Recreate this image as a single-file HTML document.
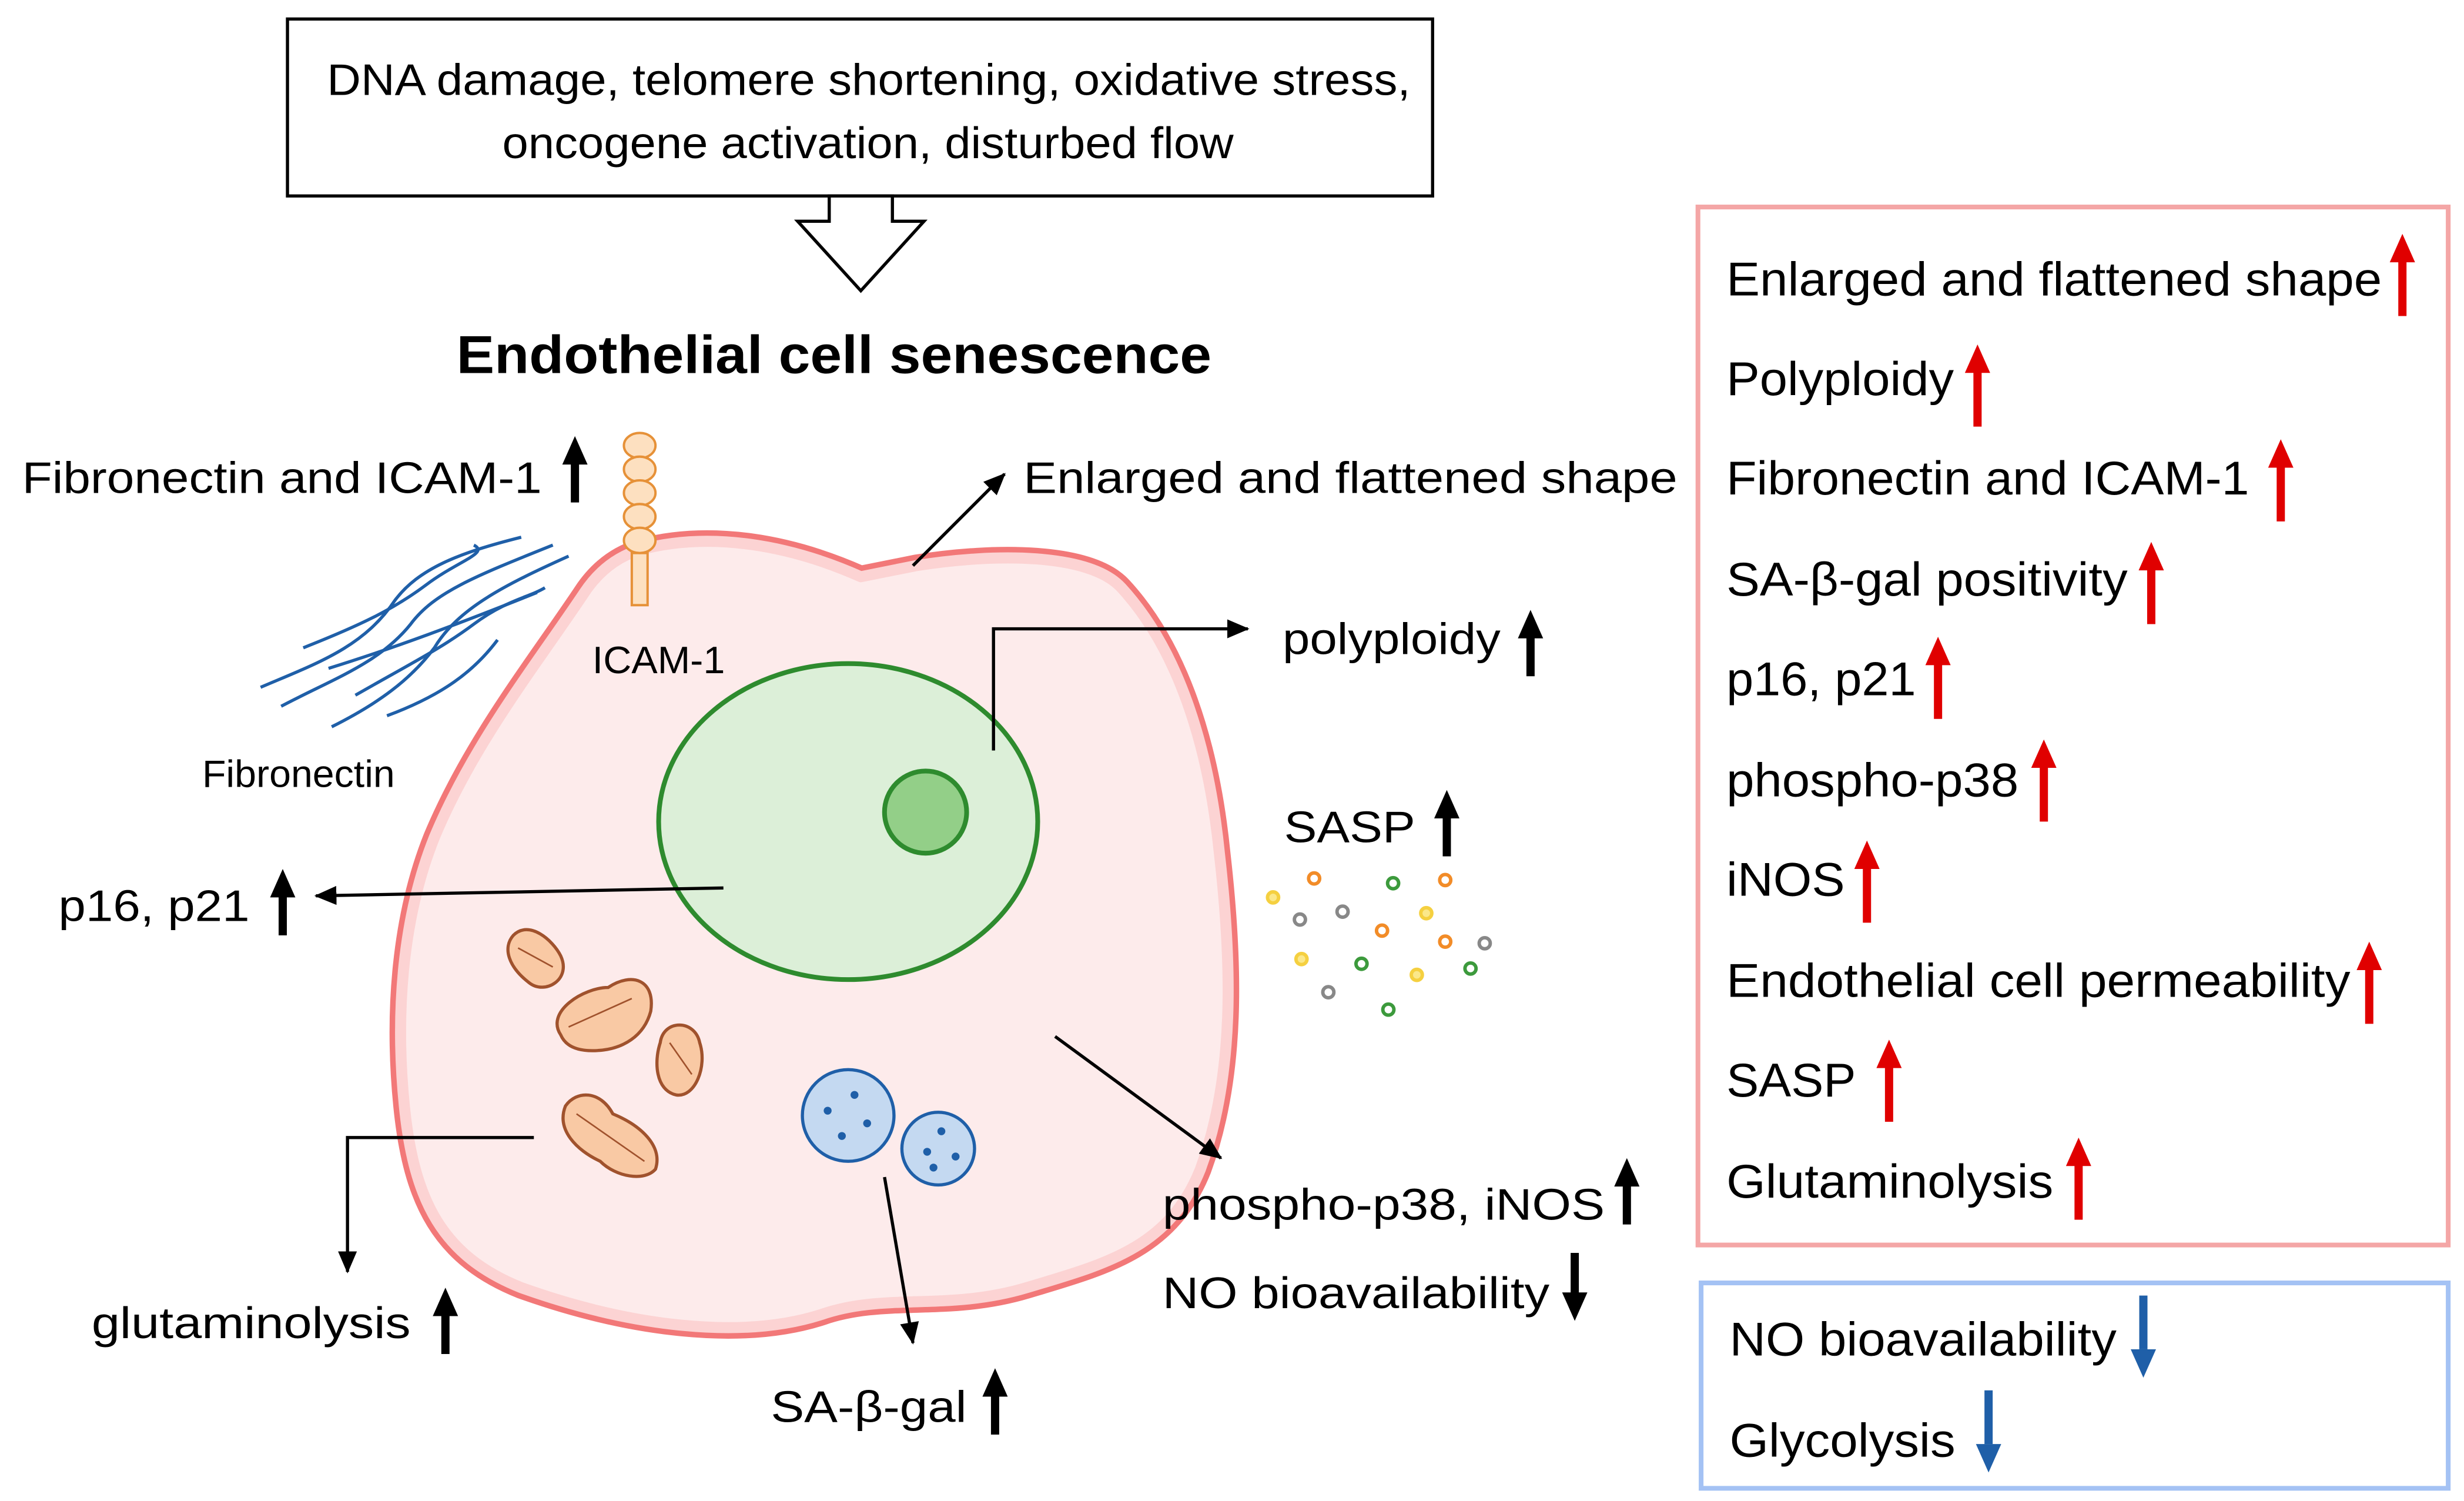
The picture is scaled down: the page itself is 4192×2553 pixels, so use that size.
<!DOCTYPE html>
<html><head><meta charset="utf-8"><style>
html,body{margin:0;padding:0;background:#fff;}
svg{display:block;}
text{font-family:"Liberation Sans",Arial,sans-serif;fill:#000;}
</style></head><body>
<svg width="4192" height="2553" viewBox="0 0 1560 950" xmlns="http://www.w3.org/2000/svg">
<defs>
<marker id="ah" markerWidth="10" markerHeight="10" refX="9" refY="5" orient="auto" markerUnits="userSpaceOnUse"><path d="M0,0 L10,5 L0,10 z" fill="#000"/></marker>
<marker id="ahb" markerWidth="14" markerHeight="14" refX="13" refY="7" orient="auto" markerUnits="userSpaceOnUse"><path d="M0,1 L14,7 L0,13 z" fill="#000"/></marker>
<g id="up"><polygon points="0,0 -8,18 8,18"/><rect x="-2.6" y="16" width="5.2" height="26"/></g>
<g id="upr"><polygon points="0,0 -8,18 8,18" fill="#e00000"/><rect x="-2.6" y="16" width="5.2" height="36" fill="#e00000"/></g>
<g id="dnb"><rect x="-2.6" y="0" width="5.2" height="34" fill="#1f5fa8"/><polygon points="0,52 -8,34 8,34" fill="#1f5fa8"/></g>
</defs>

<!-- top box -->
<rect x="182" y="12" width="725" height="112" fill="#fff" stroke="#000" stroke-width="2"/>
<text x="207" y="60" font-size="28" textLength="686" lengthAdjust="spacingAndGlyphs">DNA damage, telomere shortening, oxidative stress,</text>
<text x="318" y="100" font-size="28" textLength="463" lengthAdjust="spacingAndGlyphs">oncogene activation, disturbed flow</text>
<polygon points="525,124 525,140 505,140 545,184 585,140 565,140 565,124" fill="#fff" stroke="#000" stroke-width="2"/>
<text x="289" y="236" font-size="34" font-weight="bold" textLength="478" lengthAdjust="spacingAndGlyphs">Endothelial cell senescence</text>

<!-- cell -->
<path d="M405,348 C450,336 500,345 545,365 L580,358 C630,350 690,350 710,372 C745,410 765,470 772,540 C780,610 782,680 760,740 C740,790 700,800 650,815 C600,830 560,818 520,832 C470,848 400,840 330,815 C280,795 262,760 256,700 C250,640 255,580 275,530 C300,470 340,420 370,375 C380,360 392,352 405,348 Z" fill="#fdebeb" stroke="#f27878" stroke-width="14" stroke-linejoin="round"/>
<path d="M405,348 C450,336 500,345 545,365 L580,358 C630,350 690,350 710,372 C745,410 765,470 772,540 C780,610 782,680 760,740 C740,790 700,800 650,815 C600,830 560,818 520,832 C470,848 400,840 330,815 C280,795 262,760 256,700 C250,640 255,580 275,530 C300,470 340,420 370,375 C380,360 392,352 405,348 Z" fill="#fdebeb" stroke="#fcd3d3" stroke-width="7" stroke-linejoin="round"/>

<!-- nucleus -->
<ellipse cx="537" cy="520" rx="120" ry="100" fill="#dcefd8" stroke="#2e8b2e" stroke-width="3"/>
<circle cx="586" cy="514" r="26" fill="#93cf88" stroke="#2e8b2e" stroke-width="3"/>

<!-- ICAM-1 -->
<rect x="400" y="350" width="10" height="33" fill="#fde0c0" stroke="#e69138" stroke-width="1.5"/>
<g fill="#fde0c0" stroke="#e69138" stroke-width="1.5">
<ellipse cx="405" cy="282" rx="10" ry="8"/><ellipse cx="405" cy="297" rx="10" ry="8"/><ellipse cx="405" cy="312" rx="10" ry="8"/><ellipse cx="405" cy="327" rx="10" ry="8"/><ellipse cx="405" cy="342" rx="10" ry="8"/>
</g>
<text x="375" y="426" font-size="24" textLength="84" lengthAdjust="spacingAndGlyphs">ICAM-1</text>

<!-- fibronectin -->
<g fill="none" stroke="#1f5fa8" stroke-width="2">
<path d="M165,435 C200,420 230,410 250,380 C265,360 290,350 330,340"/>
<path d="M178,447 C210,430 240,420 260,395 C275,375 300,365 350,345"/>
<path d="M192,410 C230,395 250,385 270,370 C290,355 310,350 300,345"/>
<path d="M210,460 C240,445 260,430 275,410 C290,385 320,370 360,352"/>
<path d="M225,440 C260,420 280,410 300,395 C320,380 335,378 345,372"/>
<path d="M208,423 C250,410 290,395 340,375"/>
<path d="M245,453 C280,440 300,425 315,405"/>
</g>
<text x="128" y="498" font-size="24" textLength="122" lengthAdjust="spacingAndGlyphs">Fibronectin</text>

<text x="14" y="312" font-size="28" textLength="329" lengthAdjust="spacingAndGlyphs">Fibronectin and ICAM-1</text>
<use href="#up" x="364" y="276"/>

<!-- enlarged -->
<line x1="578" y1="358" x2="636" y2="300" stroke="#000" stroke-width="2" marker-end="url(#ahb)"/>
<text x="648" y="312" font-size="28" textLength="414" lengthAdjust="spacingAndGlyphs">Enlarged and flattened shape</text>

<!-- polyploidy -->
<polyline points="629,475 629,398 790,398" fill="none" stroke="#000" stroke-width="2" marker-end="url(#ahb)"/>
<text x="812" y="414" font-size="28" textLength="138" lengthAdjust="spacingAndGlyphs">polyploidy</text>
<use href="#up" x="969" y="386"/>

<!-- p16 -->
<line x1="458" y1="562" x2="200" y2="567" stroke="#000" stroke-width="2" marker-end="url(#ahb)"/>
<text x="37" y="583" font-size="28" textLength="121" lengthAdjust="spacingAndGlyphs">p16, p21</text>
<use href="#up" x="179" y="550"/>

<!-- SASP -->
<text x="813" y="533" font-size="28" textLength="83" lengthAdjust="spacingAndGlyphs">SASP</text>
<use href="#up" x="916" y="500"/>
<g stroke-width="2.2" fill="#fff">
<circle cx="832" cy="556" r="3.5" stroke="#f28c28"/><circle cx="882" cy="559" r="3.5" stroke="#3c9a3c"/><circle cx="915" cy="557" r="3.5" stroke="#f28c28"/>
<circle cx="806" cy="568" r="3.5" stroke="#f5d040" fill="#fbe88a"/><circle cx="823" cy="582" r="3.5" stroke="#888"/><circle cx="850" cy="577" r="3.5" stroke="#888"/>
<circle cx="903" cy="578" r="3.5" stroke="#f5d040" fill="#fbe88a"/><circle cx="875" cy="589" r="3.5" stroke="#f28c28"/><circle cx="915" cy="596" r="3.5" stroke="#f28c28"/>
<circle cx="940" cy="597" r="3.5" stroke="#888"/><circle cx="824" cy="607" r="3.5" stroke="#f5d040" fill="#fbe88a"/><circle cx="862" cy="610" r="3.5" stroke="#3c9a3c"/>
<circle cx="897" cy="617" r="3.5" stroke="#f5d040" fill="#fbe88a"/><circle cx="931" cy="613" r="3.5" stroke="#3c9a3c"/><circle cx="841" cy="628" r="3.5" stroke="#888"/><circle cx="879" cy="639" r="3.5" stroke="#3c9a3c"/>
</g>

<!-- mitochondria -->
<g fill="#f9c9a4" stroke="#a0522d" stroke-width="2">
<path d="M325,592 C335,582 350,595 355,605 C362,620 345,630 335,622 C322,612 318,600 325,592 Z"/>
<path d="M355,655 C345,640 370,625 385,625 C400,615 415,620 412,640 C408,655 395,665 375,665 C365,665 358,662 355,655 Z"/>
<path d="M418,660 C420,645 440,645 443,660 C448,675 440,695 428,693 C415,690 414,672 418,660 Z"/>
<path d="M358,700 C365,690 380,690 388,705 C405,712 420,725 415,740 C408,748 390,745 380,735 C365,728 352,715 358,700 Z"/>
</g>
<g fill="none" stroke="#a0522d" stroke-width="1">
<path d="M328,600 L350,612 M360,650 L400,632 M424,660 L438,680 M365,705 L408,735"/>
</g>

<!-- vesicles -->
<g stroke="#1f5fa8" stroke-width="2" fill="#c4d9f1">
<circle cx="537" cy="706" r="29"/><circle cx="594" cy="727" r="23"/>
</g>
<g fill="#1f5fa8">
<circle cx="541" cy="693" r="2.5"/><circle cx="524" cy="703" r="2.5"/><circle cx="549" cy="711" r="2.5"/><circle cx="533" cy="719" r="2.5"/>
<circle cx="596" cy="716" r="2.5"/><circle cx="587" cy="729" r="2.5"/><circle cx="605" cy="732" r="2.5"/><circle cx="591" cy="739" r="2.5"/>
</g>
<line x1="560" y1="745" x2="578" y2="850" stroke="#000" stroke-width="2" marker-end="url(#ahb)"/>
<text x="488" y="900" font-size="28" textLength="124" lengthAdjust="spacingAndGlyphs">SA-β-gal</text>
<use href="#up" x="630" y="866"/>

<!-- phospho -->
<line x1="668" y1="656" x2="773" y2="733" stroke="#000" stroke-width="2" marker-end="url(#ahb)"/>
<text x="736" y="772" font-size="28" textLength="280" lengthAdjust="spacingAndGlyphs">phospho-p38, iNOS</text>
<use href="#up" x="1030" y="733"/>
<text x="736" y="828" font-size="28" textLength="245" lengthAdjust="spacingAndGlyphs">NO bioavailability</text>
<g transform="translate(997,793)"><rect x="-2.6" y="0" width="5.2" height="26"/><polygon points="0,43 -8,25 8,25"/></g>

<!-- glutaminolysis -->
<polyline points="338,720 220,720 220,805" fill="none" stroke="#000" stroke-width="2" marker-end="url(#ahb)"/>
<text x="58" y="847" font-size="28" textLength="202" lengthAdjust="spacingAndGlyphs">glutaminolysis</text>
<use href="#up" x="282" y="815"/>

<!-- right red box -->
<rect x="1075" y="131" width="475" height="657" fill="none" stroke="#f4a6a6" stroke-width="3"/>
<g font-size="30">
<text x="1093" y="187" textLength="415" lengthAdjust="spacingAndGlyphs">Enlarged and flattened shape</text>
<text x="1093" y="250" textLength="144" lengthAdjust="spacingAndGlyphs">Polyploidy</text>
<text x="1093" y="313" textLength="331" lengthAdjust="spacingAndGlyphs">Fibronectin and ICAM-1</text>
<text x="1093" y="377" textLength="254" lengthAdjust="spacingAndGlyphs">SA-β-gal positivity</text>
<text x="1093" y="440" textLength="120" lengthAdjust="spacingAndGlyphs">p16, p21</text>
<text x="1093" y="504" textLength="185" lengthAdjust="spacingAndGlyphs">phospho-p38</text>
<text x="1093" y="567" textLength="75" lengthAdjust="spacingAndGlyphs">iNOS</text>
<text x="1093" y="631" textLength="395" lengthAdjust="spacingAndGlyphs">Endothelial cell permeability</text>
<text x="1093" y="694" textLength="82" lengthAdjust="spacingAndGlyphs">SASP</text>
<text x="1093" y="758" textLength="207" lengthAdjust="spacingAndGlyphs">Glutaminolysis</text>
</g>
<use href="#upr" x="1521" y="148"/>
<use href="#upr" x="1252" y="218"/>
<use href="#upr" x="1444" y="278"/>
<use href="#upr" x="1362" y="343"/>
<use href="#upr" x="1227" y="403"/>
<use href="#upr" x="1294" y="468"/>
<use href="#upr" x="1182" y="532"/>
<use href="#upr" x="1500" y="596"/>
<use href="#upr" x="1196" y="658"/>
<use href="#upr" x="1316" y="720"/>

<!-- blue box -->
<rect x="1077" y="812" width="473" height="130" fill="none" stroke="#a4c2f4" stroke-width="3"/>
<text x="1095" y="858" font-size="30" textLength="245" lengthAdjust="spacingAndGlyphs">NO bioavailability</text>
<use href="#dnb" x="1357" y="820"/>
<text x="1095" y="922" font-size="30" textLength="143" lengthAdjust="spacingAndGlyphs">Glycolysis</text>
<use href="#dnb" x="1259" y="880"/>
</svg>
</body></html>
